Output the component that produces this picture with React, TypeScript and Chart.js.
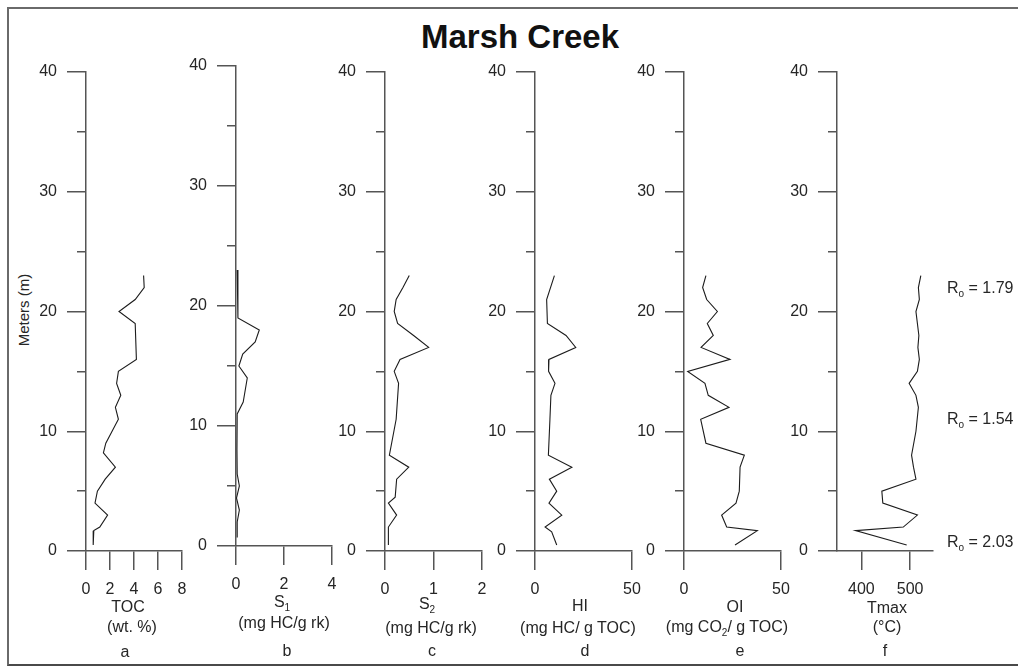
import React, { useEffect, useRef } from "react";
import { Chart, registerables } from "chart.js";

Chart.register(...registerables);

// ---------------- data ----------------
const tocDepth = [23, 22, 21, 20, 19, 16, 15, 14, 13, 12, 11, 9, 8.2, 7, 6, 5, 4, 3, 2, 1.7, 0.5];
const tocValues = [4.8, 4.85, 4.1, 2.75, 4.1, 4.2, 2.7, 2.55, 2.9, 2.45, 2.7, 1.65, 1.45, 2.45, 1.6, 0.95, 0.75, 1.8, 1.15, 0.65, 0.6];

const s1Depth = [23, 19, 18, 17, 16, 15, 14, 12, 11, 8, 6, 5, 4, 3, 2, 0.7];
const s1Values = [0.05, 0.08, 0.97, 0.8, 0.28, 0.12, 0.47, 0.3, 0.05, 0.04, 0.05, 0.14, 0.02, 0.14, 0.05, 0.05];

const s2Depth = [23, 22, 21, 20, 19, 18, 17, 16, 15, 14, 11, 8, 7, 6, 4.5, 4, 3, 2, 0.5];
const s2Values = [0.5, 0.37, 0.23, 0.19, 0.26, 0.59, 0.9, 0.31, 0.19, 0.28, 0.23, 0.09, 0.49, 0.24, 0.21, 0.07, 0.24, 0.07, 0.07];

const hiDepth = [23, 21, 19, 18, 17, 16, 15, 14, 13, 11, 8, 7, 6, 5, 4, 3, 2, 1.6, 0.5];
const hiValues = [10, 6, 6.4, 16, 21, 7.2, 7, 10.3, 8.2, 7.7, 6.9, 19, 7.4, 11.2, 7.2, 13.8, 5.2, 8.6, 11.2];

const oiDepth = [23, 22, 21, 20, 19, 18, 17, 16, 15, 14, 13, 12, 11, 9, 8, 7, 5, 4, 3, 2, 1.7, 0.5];
const oiValues = [11.3, 9.6, 11.7, 17.2, 12, 15.1, 8.8, 23.7, 1.9, 10.8, 12.5, 23.2, 8.6, 11.3, 31.1, 28.9, 28.5, 26.8, 19.4, 22, 37.8, 26.3];

const tmaxDepth = [23, 22, 21, 20, 18, 17, 16, 15, 14, 13, 12, 10, 8, 7, 6, 5, 4, 3, 2, 1.7, 0.5];
const tmaxValues = [522, 517, 519, 512, 518, 516, 519, 515, 498, 512, 517, 512, 503, 507, 512, 442, 444, 515, 486, 388, 493];

const depthTicks = [0, 10, 20, 30, 40];
const depthMinorTicks = [5, 15, 25, 35];
const tocTicks = [0, 2, 4, 6, 8];
const s1Ticks = [0, 2, 4];
const s2Ticks = [0, 1, 2];
const hiTicks = [0, 50];
const oiTicks = [0, 50];
const tmaxTicks = [400, 500];

const roValues = ["1.79", "1.54", "2.03"];

// ---------------- layout / style ----------------
const FONT = "'Liberation Sans', Arial, Helvetica, sans-serif";
const AXIS = "#555555";
const TEXT = "#262626";
const LINE = "#1c1c1c";
const Y_W = 70;
const PAD_T = 22;
const PAD_R = 28;
const X_H = 50;

type PanelCfg = {
  depth: number[];
  values: number[];
  xMin: number;
  xMax: number;
  xTicks: number[];
  axisX: number;
  plotW: number;
  topY: number;
  bottomY: number;
};

const PANELS: PanelCfg[] = [
  { depth: tocDepth, values: tocValues, xMin: 0, xMax: 8, xTicks: tocTicks, axisX: 86, plotW: 96, topY: 72, bottomY: 551 },
  { depth: s1Depth, values: s1Values, xMin: 0, xMax: 4, xTicks: s1Ticks, axisX: 236, plotW: 96, topY: 66, bottomY: 546 },
  { depth: s2Depth, values: s2Values, xMin: 0, xMax: 2, xTicks: s2Ticks, axisX: 385, plotW: 97, topY: 72, bottomY: 551 },
  { depth: hiDepth, values: hiValues, xMin: 0, xMax: 50, xTicks: hiTicks, axisX: 535, plotW: 97, topY: 72, bottomY: 551 },
  { depth: oiDepth, values: oiValues, xMin: 0, xMax: 50, xTicks: oiTicks, axisX: 684, plotW: 97, topY: 72, bottomY: 551 },
  { depth: tmaxDepth, values: tmaxValues, xMin: 350, xMax: 547, xTicks: tmaxTicks, axisX: 837, plotW: 96, topY: 72, bottomY: 551 },
];

function Panel({ cfg }: { cfg: PanelCfg }) {
  const ref = useRef<HTMLCanvasElement | null>(null);
  const width = Y_W + cfg.plotW + PAD_R;
  const height = PAD_T + (cfg.bottomY - cfg.topY) + X_H;

  useEffect(() => {
    if (!ref.current) return;
    const tickFont = { family: FONT, size: 16 };
    const chart = new Chart(ref.current, {
      type: "scatter",
      data: {
        datasets: [
          {
            data: cfg.depth.map((d, i) => ({ x: cfg.values[i], y: d })),
            showLine: true,
            pointRadius: 0,
            borderColor: LINE,
            borderWidth: 1.1,
            fill: false,
            tension: 0,
            xAxisID: "x",
            yAxisID: "y",
          },
        ],
      },
      options: {
        animation: false,
        responsive: false,
        maintainAspectRatio: false,
        events: [],
        layout: { padding: { top: PAD_T, right: PAD_R, left: 0, bottom: 0 } },
        plugins: {
          legend: { display: false },
          tooltip: { enabled: false },
          title: { display: false },
        },
        scales: {
          x: {
            type: "linear",
            position: "bottom",
            min: cfg.xMin,
            max: cfg.xMax,
            afterBuildTicks: (s: any) => {
              s.ticks = cfg.xTicks.map((v) => ({ value: v }));
            },
            afterFit: (s: any) => {
              s.height = X_H;
            },
            grid: { drawOnChartArea: false, drawTicks: true, tickLength: 19, color: AXIS, lineWidth: 1.5 },
            border: { display: true, color: AXIS, width: 1.5 },
            ticks: { padding: 10, font: tickFont, color: TEXT, maxRotation: 0, autoSkip: false },
          },
          y: {
            type: "linear",
            position: "left",
            weight: 1,
            min: 0,
            max: 40,
            afterBuildTicks: (s: any) => {
              s.ticks = depthTicks.map((v) => ({ value: v }));
            },
            afterFit: (s: any) => {
              s.width = Y_W;
            },
            grid: { drawOnChartArea: false, drawTicks: true, tickLength: 19, color: AXIS, lineWidth: 1.5 },
            border: { display: true, color: AXIS, width: 1.5 },
            ticks: { padding: 10, font: tickFont, color: TEXT, autoSkip: false },
          },
          yMinor: {
            type: "linear",
            position: "left",
            weight: 0,
            min: 0,
            max: 40,
            afterBuildTicks: (s: any) => {
              s.ticks = depthMinorTicks.map((v) => ({ value: v }));
            },
            afterFit: (s: any) => {
              s.width = 0;
            },
            grid: { drawOnChartArea: false, drawTicks: true, tickLength: 9, color: AXIS, lineWidth: 1.5 },
            border: { display: false },
            ticks: { display: false },
          },
        },
      } as any,
    });
    return () => chart.destroy();
  }, [cfg]);

  return (
    <canvas
      ref={ref}
      width={width}
      height={height}
      style={{
        position: "absolute",
        left: cfg.axisX - Y_W,
        top: cfg.topY - PAD_T,
        width,
        height,
      }}
    />
  );
}

function Txt({ x, y, children, size = 16, bold = false, align = "center" }: any) {
  return (
    <div
      style={{
        position: "absolute",
        left: x,
        top: y,
        transform: align === "center" ? "translate(-50%, -50%)" : "translate(0, -50%)",
        fontFamily: FONT,
        fontSize: size,
        fontWeight: bold ? 700 : 400,
        color: bold ? "#111" : TEXT,
        lineHeight: 1,
        whiteSpace: "nowrap",
      }}
    >
      {children}
    </div>
  );
}

const Sub = ({ children }: any) => (
  <span style={{ fontSize: 10, position: "relative", top: 4 }}>{children}</span>
);

export default function App() {
  return (
    <div
      style={{
        position: "fixed",
        left: 0,
        top: 0,
        width: 1018,
        height: 668,
        background: "#fff",
        overflow: "hidden",
      }}
    >
      <div
        style={{
          position: "absolute",
          left: 7,
          top: 7,
          width: 1030,
          height: 655,
          borderTop: "2px solid #6a6a6a",
          borderLeft: "2px solid #6a6a6a",
          borderBottom: "2px solid #4a4a4a",
        }}
      />
      <Txt x={520} y={36} size={33} bold>
        Marsh Creek
      </Txt>
      <div
        style={{
          position: "absolute",
          left: 23,
          top: 310,
          transform: "translate(-50%, -50%) rotate(-90deg)",
          fontFamily: FONT,
          fontSize: 15,
          color: TEXT,
          lineHeight: 1,
          whiteSpace: "nowrap",
        }}
      >
        Meters (m)
      </div>

      {PANELS.map((p, i) => (
        <Panel key={i} cfg={p} />
      ))}

      {/* a */}
      <Txt x={128} y={607}>TOC</Txt>
      <Txt x={132} y={627}>(wt. %)</Txt>
      <Txt x={125} y={652}>a</Txt>
      {/* b */}
      <Txt x={282} y={602}>
        S<Sub>1</Sub>
      </Txt>
      <Txt x={284} y={623}>(mg HC/g rk)</Txt>
      <Txt x={287} y={651}>b</Txt>
      {/* c */}
      <Txt x={427} y={604}>
        S<Sub>2</Sub>
      </Txt>
      <Txt x={431} y={628}>(mg HC/g rk)</Txt>
      <Txt x={432} y={651}>c</Txt>
      {/* d */}
      <Txt x={580} y={606}>HI</Txt>
      <Txt x={578} y={628}>(mg HC/ g TOC)</Txt>
      <Txt x={585} y={651}>d</Txt>
      {/* e */}
      <Txt x={735} y={607}>OI</Txt>
      <Txt x={727} y={627}>
        (mg CO<Sub>2</Sub>/ g TOC)
      </Txt>
      <Txt x={740} y={651}>e</Txt>
      {/* f */}
      <Txt x={887} y={608}>Tmax</Txt>
      <Txt x={887} y={627}>(°C)</Txt>
      <Txt x={885} y={651}>f</Txt>

      {/* Ro labels */}
      <Txt x={947} y={288} align="left">
        R<Sub>o</Sub> = {roValues[0]}
      </Txt>
      <Txt x={947} y={419} align="left">
        R<Sub>o</Sub> = {roValues[1]}
      </Txt>
      <Txt x={947} y={542} align="left">
        R<Sub>o</Sub> = {roValues[2]}
      </Txt>
    </div>
  );
}
